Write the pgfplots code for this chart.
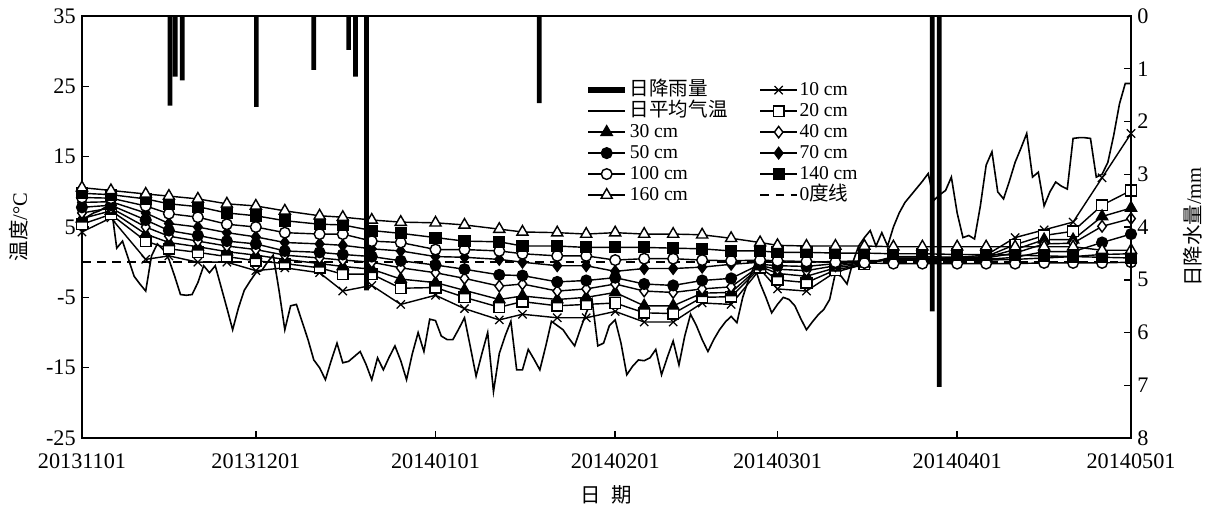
\documentclass[border=0pt]{standalone}
\usepackage{fontspec}
\setmainfont{Liberation Serif}
\newfontfamily\cjk{Noto Sans CJK SC}
\usepackage{pgfplots}
\usepackage{pgfplotstable}
\pgfplotsset{compat=1.18}

\pgfplotstableread{
day s10 s20 s30 s40 s50 s70 s100 s140 s160
0 4.3 5.4 6.2 7.0 7.8 8.5 9.2 9.8 10.6
5 6.3 6.8 7.3 7.7 8.1 8.6 9.1 9.6 10.2
11 0.4 3.0 4.0 5.0 6.0 7.0 8.0 9.0 9.7
15 0.9 1.9 2.8 3.7 4.5 5.5 6.9 8.3 9.4
20 0.0 1.4 2.2 3.0 3.8 5.0 6.4 7.9 9.0
25 0.0 0.8 1.5 2.3 3.0 4.2 5.4 7.0 8.3
30 -1.2 0.2 1.0 1.8 2.6 3.6 5.0 6.6 8.0
35 -0.8 -0.2 0.4 1.0 1.6 2.8 4.2 5.9 7.3
41 -1.5 -0.8 -0.2 0.6 1.4 2.6 4.0 5.4 6.6
45 -4.1 -1.7 -0.6 0.3 1.1 2.4 4.0 5.3 6.4
50 -3.3 -1.7 -1.0 0.0 0.8 1.9 3.0 4.5 6.0
55 -6.0 -3.7 -2.4 -0.8 0.2 1.6 2.8 4.1 5.7
61 -4.7 -3.6 -2.9 -1.5 -0.4 0.8 1.8 3.5 5.6
66 -6.6 -5.0 -4.0 -2.3 -1.0 0.7 1.8 3.0 5.3
72 -8.2 -6.4 -5.3 -3.4 -1.8 0.4 1.6 2.9 4.7
76 -7.4 -5.6 -4.8 -3.1 -1.9 0.0 1.2 2.3 4.3
82 -7.9 -6.2 -5.3 -4.1 -2.8 -0.5 0.9 2.3 4.2
87 -7.9 -6.0 -5.0 -3.8 -2.6 -0.5 0.9 2.1 4.0
92 -7.0 -5.8 -4.3 -3.1 -2.2 -1.3 0.3 2.1 4.2
97 -8.5 -7.2 -6.2 -4.1 -3.1 -0.9 0.5 2.1 4.0
102 -8.5 -7.3 -6.2 -4.3 -3.3 -0.9 0.5 2.0 4.0
107 -5.8 -5.0 -4.4 -3.8 -2.6 -0.7 0.3 1.9 3.9
112 -6.0 -4.9 -4.3 -3.5 -2.3 -0.3 0.2 1.6 3.4
117 -1.0 -0.8 -0.6 -0.5 -0.3 0.0 0.3 1.6 2.8
120 -3.8 -2.5 -1.6 -1.0 -0.5 0.0 0.2 1.4 2.4
125 -4.1 -2.9 -2.0 -1.2 -0.6 0.0 0.1 1.4 2.3
130 -1.4 -1.1 -0.8 -0.5 -0.2 0.1 0.0 1.3 2.3
135 -0.3 -0.3 -0.2 -0.1 0.0 0.2 -0.1 1.3 2.3
140 0.8 0.6 0.6 0.5 0.4 0.3 -0.2 1.2 2.2
145 0.8 0.6 0.6 0.5 0.4 0.3 -0.2 1.2 2.2
151 0.7 0.6 0.6 0.5 0.4 0.3 -0.2 1.1 2.2
156 1.0 0.8 0.7 0.6 0.4 0.3 -0.2 1.1 2.2
161 3.5 2.5 1.8 1.3 0.7 0.4 -0.2 1.0 2.2
166 4.6 3.8 3.2 2.6 1.5 0.6 -0.1 0.9 2.2
171 5.7 4.4 3.2 2.7 1.5 0.8 -0.1 0.8 2.2
176 12.0 8.1 6.5 5.1 2.8 1.1 -0.1 0.7 1.7
181 18.3 10.2 7.7 6.2 4.0 1.2 0.0 0.6 1.7
}\soil

\pgfplotstableread{
day t
0 6.0
1 6.5
2 7.0
3 7.3
4 7.8
5 8.2
6 2.0
7 3.0
8 0.5
9 -2.0
10 -3.1
11 -4.1
12 0.9
13 2.6
14 1.8
15 0.4
16 -2.0
17 -4.6
18 -4.7
19 -4.6
20 -2.9
21 -0.5
22 -1.5
23 -0.5
24 -3.5
25 -6.5
26 -9.6
27 -6.5
28 -4.0
29 -2.7
30 -1.5
31 -1.2
32 0.0
33 1.0
34 -4.0
35 -9.6
36 -6.2
37 -6.0
38 -8.5
39 -11.0
40 -13.9
41 -15.0
42 -16.7
43 -14.0
44 -11.5
45 -14.3
46 -14.1
47 -13.4
48 -12.7
49 -14.5
50 -16.7
51 -13.6
52 -15.3
53 -13.5
54 -11.9
55 -14.0
56 -16.7
57 -13.0
58 -10.0
59 -12.7
60 -8.1
61 -8.3
62 -10.5
63 -11.0
64 -11.0
65 -9.5
66 -7.9
67 -12.0
68 -16.2
69 -13.0
70 -10.0
71 -18.4
72 -13.0
73 -10.5
74 -8.4
75 -15.3
76 -15.3
77 -12.4
78 -13.8
79 -15.3
80 -12.0
81 -8.4
82 -9.0
83 -9.6
84 -10.8
85 -11.9
86 -9.5
87 -7.2
88 -5.3
89 -11.9
90 -11.5
91 -9.0
92 -8.2
93 -11.5
94 -16.0
95 -14.8
96 -13.9
97 -14.0
98 -13.6
99 -12.4
100 -16.0
101 -13.5
102 -11.2
103 -14.6
104 -10.5
105 -7.4
106 -9.0
107 -11.0
108 -12.7
109 -11.0
110 -9.6
111 -8.5
112 -7.7
113 -8.6
114 -5.0
115 -2.5
116 -0.5
117 -3.0
118 -5.0
119 -7.2
120 -6.0
121 -5.0
122 -5.3
123 -6.2
124 -8.0
125 -9.6
126 -8.5
127 -7.5
128 -6.7
129 -5.3
130 -1.5
131 -2.0
132 -3.1
133 0.0
134 2.3
135 3.5
136 4.5
137 2.3
138 4.2
139 2.3
140 5.0
141 7.0
142 8.5
143 9.5
144 10.5
145 11.5
146 12.6
147 8.8
148 9.6
149 10.2
150 12.1
151 7.0
152 3.5
153 3.8
154 3.3
155 8.0
156 13.8
157 15.7
158 10.0
159 9.0
160 11.5
161 14.2
162 16.2
163 18.3
164 12.1
165 12.8
166 8.0
167 10.0
168 11.4
169 10.8
170 10.4
171 17.6
172 17.7
173 17.7
174 17.6
175 12.1
176 12.5
177 14.2
178 18.0
179 22.5
180 25.4
181 25.4
}\air

\pgfplotstableread{
day rain
15.2 1.70
16.1 1.15
17.3 1.22
30.1 1.72
40.0 1.02
46.0 0.64
47.2 1.15
49.1 5.20
78.9 1.65
146.7 5.60
147.9 7.03
}\rain

\pgfplotsset{
  soil/.style={black, line width=0.8pt, mark options={solid, line width=0.7pt}},
  s10/.style={soil, mark=x, mark size=3.3pt},
  s20/.style={soil, mark=square*, mark size=3pt, mark options={fill=white}},
  s30/.style={soil, mark=triangle*, mark size=3.6pt, mark options={fill=black}},
  s40/.style={soil, mark=diamond*, mark size=3.2pt, mark options={fill=white}},
  s50/.style={soil, mark=*, mark size=3pt, mark options={fill=black}},
  s70/.style={soil, mark=diamond*, mark size=3.2pt, mark options={fill=black}},
  s100/.style={soil, mark=*, mark size=3pt, mark options={fill=white}},
  s140/.style={soil, mark=square*, mark size=3pt, mark options={fill=black}},
  s160/.style={soil, mark=triangle*, mark size=3.6pt, mark options={fill=white}},
  airst/.style={black, line width=0.9pt, no marks},
  zerost/.style={black, line width=1pt, dash pattern=on 5pt off 3.5pt, no marks},
}

\begin{document}
\begin{tikzpicture}
\begin{axis}[
  at={(0,0)}, anchor=south west,
  scale only axis, width=590.1pt, height=237.4pt,
  xmin=0, xmax=181, ymin=-25, ymax=35,
  ytick={-25,-15,...,35},
  xtick={0,30,61,92,120,151,181},
  xticklabels={20131101,20131201,20140101,20140201,20140301,20140401,20140501},
  xtick pos=bottom, ytick pos=left,
  tick align=inside, major tick length=4pt,
  axis line style={line width=0.9pt}, tick style={line width=0.8pt, black},
  /pgf/number format/assume math mode=true,
  tick label style={font=\fontsize{12.5}{14}\selectfont},
  xticklabel style={yshift=-5pt},
  ylabel={{\cjk 温度}/°C},
  xlabel={\cjk 日\hspace{0.5em}期},
  label style={font=\fontsize{11.5}{13}\selectfont},
  ylabel style={yshift=3pt},
  xlabel style={yshift=-3pt},
  legend columns=2,
  legend cell align=left,
  legend image code/.code={\draw[mark repeat=2,mark phase=2] plot coordinates {(0cm,0cm) (0.36cm,0cm) (0.72cm,0cm)};},
  legend style={at={(rel axis cs:0.4795,0.85)}, anchor=north west, draw=none, fill=none,
    inner sep=0pt, font=\fontsize{11}{12}\selectfont,
    nodes={inner sep=1pt, text height=7.8pt, text depth=2pt},
    /tikz/every even column/.append style={column sep=17pt}},
]
\addplot[zerost, forget plot] coordinates {(0,0) (181,0)};
\addplot[airst, forget plot] table[x=day, y=t] {\air};
\addplot[s10, forget plot] table[x=day, y=s10] {\soil};
\addplot[s20, forget plot] table[x=day, y=s20] {\soil};
\addplot[s30, forget plot] table[x=day, y=s30] {\soil};
\addplot[s40, forget plot] table[x=day, y=s40] {\soil};
\addplot[s50, forget plot] table[x=day, y=s50] {\soil};
\addplot[s70, forget plot] table[x=day, y=s70] {\soil};
\addplot[s100, forget plot] table[x=day, y=s100] {\soil};
\addplot[s140, forget plot] table[x=day, y=s140] {\soil};
\addplot[s160, forget plot] table[x=day, y=s160] {\soil};

\addlegendimage{black, line width=3.5pt}
\addlegendentry{\cjk 日降雨量}
\addlegendimage{s10}
\addlegendentry{10 cm}
\addlegendimage{airst}
\addlegendentry{\cjk 日平均气温}
\addlegendimage{s20}
\addlegendentry{20 cm}
\addlegendimage{s30}
\addlegendentry{30 cm}
\addlegendimage{s40}
\addlegendentry{40 cm}
\addlegendimage{s50}
\addlegendentry{50 cm}
\addlegendimage{s70}
\addlegendentry{70 cm}
\addlegendimage{s100}
\addlegendentry{100 cm}
\addlegendimage{s140}
\addlegendentry{140 cm}
\addlegendimage{s160}
\addlegendentry{160 cm}
\addlegendimage{zerost}
\addlegendentry{0{\cjk 度线}}
\end{axis}

\begin{axis}[
  at={(0,0)}, anchor=south west,
  scale only axis, width=590.1pt, height=237.4pt,
  xmin=0, xmax=181, ymin=0, ymax=8, y dir=reverse,
  axis x line=none, axis y line*=right,
  ytick={0,1,...,8},
  tick align=inside, major tick length=4pt,
  axis line style={line width=0.9pt}, tick style={line width=0.8pt, black},
  /pgf/number format/assume math mode=true,
  tick label style={font=\fontsize{12.5}{14}\selectfont},
  ylabel={{\cjk 日降水量}/mm},
  label style={font=\fontsize{11.5}{13}\selectfont},
  ylabel style={yshift=-13pt},
  ybar, bar width=0.8, /pgf/bar shift=0pt,
]
\addplot[fill=black, draw=none] table[x=day, y=rain] {\rain};
\end{axis}
\pgfresetboundingbox
\path[use as bounding box] (-46.1pt,-38.25pt) rectangle (636.2pt,246.4pt);
\end{tikzpicture}
\end{document}
